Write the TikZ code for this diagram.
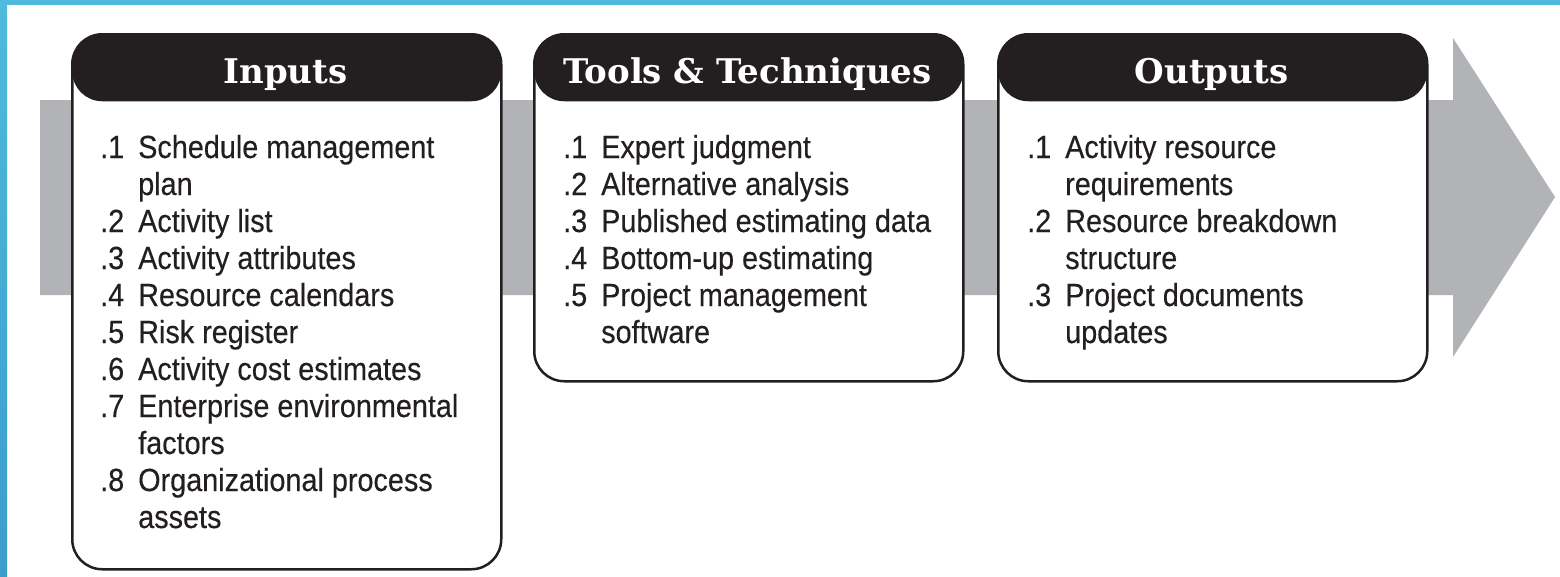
\documentclass[tikz,border=0pt]{standalone}
\usepackage{fontspec}
\setmainfont{Liberation Sans}[FakeStretch=0.9,FakeBold=0.3]
\newfontfamily\headfont{DejaVu Serif}
\definecolor{ink}{HTML}{231F20}
\definecolor{arrowgray}{HTML}{B2B3B6}
\definecolor{frameblue}{HTML}{4FBADD}
\definecolor{frameblue2}{HTML}{3B9DCB}
\tikzset{
  panel/.style={draw=ink, line width=2.5pt, fill=white, rounded corners=30pt,
    minimum width=429pt, inner sep=0pt, anchor=north west,
    path picture={\fill[ink] (path picture bounding box.north west) rectangle ([yshift=-67pt]path picture bounding box.north east);}},
  headtext/.style={text=white, font=\headfont\bfseries\fontsize{34}{40}\selectfont, anchor=base, inner sep=0pt},
  itemlist/.style={text=ink, font=\fontsize{32}{37}\selectfont, anchor=base west, inner sep=0pt}
}
\newcommand{\itemtab}[1]{\begin{tabular}[t]{@{}l@{\hspace{14pt}}l@{}}#1\end{tabular}}
\begin{document}
\begin{tikzpicture}[x=1pt,y=-1pt]
\useasboundingbox (0,0) rectangle (1560,576);
\fill[white] (0,0) rectangle (1560,576);
% blue frame
\fill[frameblue] (0,0) rectangle (1560,5);
\shade[top color=frameblue, bottom color=frameblue2] (0,0) rectangle (7,576);
% gray arrow
\fill[arrowgray] (40,100) -- (1453,100) -- (1453,38) -- (1555,197) -- (1453,357) -- (1453,295) -- (40,295) -- cycle;
% panels
\node[panel, minimum height=535pt] (inputs) at (71,33) {};
\node[panel, minimum height=347pt] (tools) at (533,33) {};
\node[panel, minimum height=347pt] (outputs) at (997,33) {};
% headers
\node[headtext] (hin) at (285.5,83) {Inputs};
\node[headtext] (htt) at (747.5,83) {Tools \& Techniques};
\node[headtext] (hout) at (1211.5,83) {Outputs};
% lists
\node[itemlist] (lin) at (100,158) {\itemtab{%
.1 & Schedule management\\
   & plan\\
.2 & Activity list\\
.3 & Activity attributes\\
.4 & Resource calendars\\
.5 & Risk register\\
.6 & Activity cost estimates\\
.7 & Enterprise environmental\\
   & factors\\
.8 & Organizational process\\
   & assets}};
\node[itemlist] (ltt) at (563,158) {\itemtab{%
.1 & Expert judgment\\
.2 & Alternative analysis\\
.3 & Published estimating data\\
.4 & Bottom-up estimating\\
.5 & Project management\\
   & software}};
\node[itemlist] (lout) at (1027,158) {\itemtab{%
.1 & Activity resource\\
   & requirements\\
.2 & Resource breakdown\\
   & structure\\
.3 & Project documents\\
   & updates}};
\end{tikzpicture}
\end{document}
